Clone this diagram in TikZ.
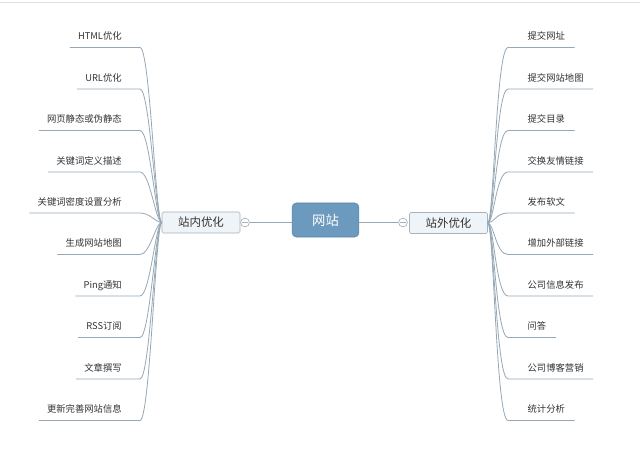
\documentclass[tikz,border=0pt]{standalone}
\usepackage{fontspec}
\setmainfont{Noto Sans CJK SC}
\definecolor{textgray}{RGB}{51,51,51}
\definecolor{linegray}{RGB}{150,168,182}
\definecolor{sitefill}{RGB}{108,154,191}
\definecolor{siteedge}{RGB}{92,134,168}
\definecolor{subfill}{RGB}{239,244,248}
\definecolor{subedge}{RGB}{166,178,188}
\tikzset{
  leafl/.style={anchor=south east,font=\fontsize{7}{8}\selectfont,text=textgray,
    inner xsep=6pt,inner ysep=4.5pt,text height=6pt,text depth=1pt},
  leafr/.style={leafl,anchor=south west,inner xsep=7pt},
  branch/.style={draw=linegray,line width=0.6pt},
  subtopic/.style={draw=subedge,fill=subfill,rounded corners=1.2pt,text=textgray,
    font=\fontsize{8.6}{10}\selectfont,minimum width=58.5pt,minimum height=15.75pt,inner sep=0pt},
  fold/.style={circle,draw=subedge,fill=white,minimum size=6.6pt,inner sep=0pt,line width=0.5pt}
}
\begin{document}
\begin{tikzpicture}[x=0.75pt,y=0.75pt,yscale=-1,xscale=1]
	\useasboundingbox (0,0) rectangle (640,453);
	\fill[white] (0,0) rectangle (640,453);
	\draw[color={rgb,255:red,224;green,224;blue,224}] (0,2.5) -- (640,2.5);
	
	% Central topic
	\node[fill=sitefill,draw=siteedge,rounded corners=3pt,text=white,
	  font=\fontsize{10}{12}\selectfont,minimum width=50pt,minimum height=25.5pt] (site) at (325.5,220) {网站};
	% Main topics
	\node[subtopic] (inner) at (201,222.5) {站内优化};
	\node[subtopic] (outer) at (448.5,223) {站外优化};
	% Fold markers
	\node[fold] (foldin) at (245,222.5) {};
	\node[fold] (foldout) at (403,222.5) {};
	\draw[subedge,line width=0.5pt] ([xshift=-2pt]foldin.center) -- ([xshift=2pt]foldin.center);
	\draw[subedge,line width=0.5pt] ([xshift=-2pt]foldout.center) -- ([xshift=2pt]foldout.center);
	% Connection
	\draw[branch] (foldin.east) -- (foldin.east -| site.west);
	\draw[branch] (site.east |- foldout.west) -- (foldout.west);
	
	% Text Node
	\node[leafl] (in1) at (130,47.5) {HTML优化};
	\node[leafl] (in2) at (130,89) {URL优化};
	\node[leafl] (in3) at (130,130.5) {网页静态或伪静态};
	\node[leafl] (in4) at (130,172) {关键词定义描述};
	\node[leafl] (in5) at (130,213) {关键词密度设置分析};
	\node[leafl] (in6) at (130,254.5) {生成网站地图};
	\node[leafl] (in7) at (130,296) {Ping通知};
	\node[leafl] (in8) at (130,337.5) {RSS订阅};
	\node[leafl] (in9) at (130,379) {文章撰写};
	\node[leafl] (in10) at (130,420.5) {更新完善网站信息};
	% Text Node
	\node[leafr] (out1) at (518,47.5) {提交网址};
	\node[leafr] (out2) at (518,89) {提交网站地图};
	\node[leafr] (out3) at (518,130.5) {提交目录};
	\node[leafr] (out4) at (518,172) {交换友情链接};
	\node[leafr] (out5) at (518,213) {发布软文};
	\node[leafr] (out6) at (518,254.5) {增加外部链接};
	\node[leafr] (out7) at (518,296) {公司信息发布};
	\node[leafr] (out8) at (518,337.5) {问答};
	\node[leafr] (out9) at (518,379) {公司博客营销};
	\node[leafr] (out10) at (518,420.5) {统计分析};
	
	% Connection
	\draw[branch] (inner.west) .. controls +(-6,0) and +(10,0) .. ([xshift=7.5pt]in1.south east) -- (in1.south west);
	\draw[branch] (inner.west) .. controls +(-6,0) and +(10,0) .. ([xshift=7.5pt]in2.south east) -- (in2.south west);
	\draw[branch] (inner.west) .. controls +(-6,0) and +(10,0) .. ([xshift=7.5pt]in3.south east) -- (in3.south west);
	\draw[branch] (inner.west) .. controls +(-6,0) and +(10,0) .. ([xshift=7.5pt]in4.south east) -- (in4.south west);
	\draw[branch] (inner.west) .. controls +(-6,0) and +(10,0) .. ([xshift=7.5pt]in5.south east) -- (in5.south west);
	\draw[branch] (inner.west) .. controls +(-6,0) and +(10,0) .. ([xshift=7.5pt]in6.south east) -- (in6.south west);
	\draw[branch] (inner.west) .. controls +(-6,0) and +(10,0) .. ([xshift=7.5pt]in7.south east) -- (in7.south west);
	\draw[branch] (inner.west) .. controls +(-6,0) and +(10,0) .. ([xshift=7.5pt]in8.south east) -- (in8.south west);
	\draw[branch] (inner.west) .. controls +(-6,0) and +(10,0) .. ([xshift=7.5pt]in9.south east) -- (in9.south west);
	\draw[branch] (inner.west) .. controls +(-6,0) and +(10,0) .. ([xshift=7.5pt]in10.south east) -- (in10.south west);
	% Connection
	\draw[branch] (outer.east) .. controls +(6,0) and +(-12,0) .. ([xshift=-7.5pt]out1.south west) -- (out1.south east);
	\draw[branch] (outer.east) .. controls +(6,0) and +(-12,0) .. ([xshift=-7.5pt]out2.south west) -- (out2.south east);
	\draw[branch] (outer.east) .. controls +(6,0) and +(-12,0) .. ([xshift=-7.5pt]out3.south west) -- (out3.south east);
	\draw[branch] (outer.east) .. controls +(6,0) and +(-12,0) .. ([xshift=-7.5pt]out4.south west) -- (out4.south east);
	\draw[branch] (outer.east) .. controls +(6,0) and +(-12,0) .. ([xshift=-7.5pt]out5.south west) -- (out5.south east);
	\draw[branch] (outer.east) .. controls +(6,0) and +(-12,0) .. ([xshift=-7.5pt]out6.south west) -- (out6.south east);
	\draw[branch] (outer.east) .. controls +(6,0) and +(-12,0) .. ([xshift=-7.5pt]out7.south west) -- (out7.south east);
	\draw[branch] (outer.east) .. controls +(6,0) and +(-12,0) .. ([xshift=-7.5pt]out8.south west) -- (out8.south east);
	\draw[branch] (outer.east) .. controls +(6,0) and +(-12,0) .. ([xshift=-7.5pt]out9.south west) -- (out9.south east);
	\draw[branch] (outer.east) .. controls +(6,0) and +(-12,0) .. ([xshift=-7.5pt]out10.south west) -- (out10.south east);
	
\end{tikzpicture}
\end{document}
